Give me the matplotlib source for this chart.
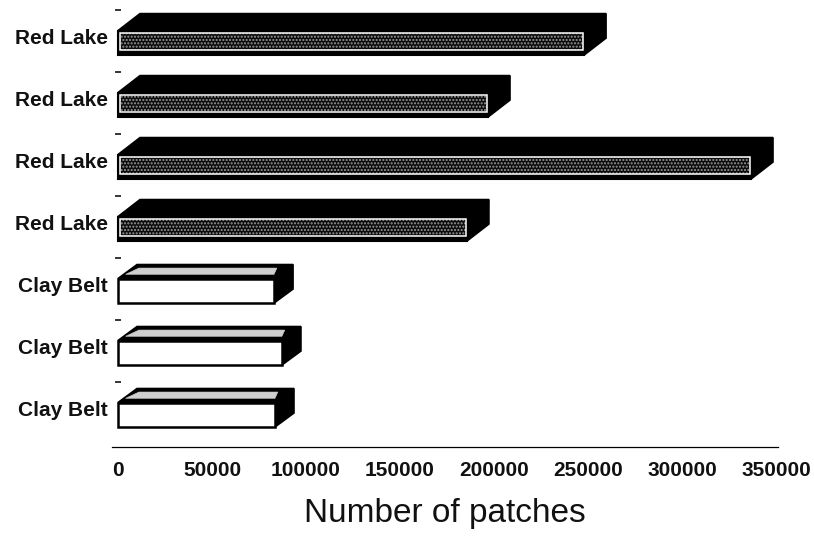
import matplotlib
matplotlib.use("Agg")
import matplotlib.pyplot as plt
from matplotlib.patches import Polygon

regions = ["Red Lake", "Red Lake", "Red Lake", "Red Lake", "Clay Belt", "Clay Belt", "Clay Belt"]
patches = [247900, 196800, 336700, 185600, 83000, 87200, 83500]
x_ticks = [0, 50000, 100000, 150000, 200000, 250000, 300000, 350000]

W, H = 814, 537
plt.rcParams["font.family"] = ["Liberation Sans", "DejaVu Sans"]
plt.rcParams["hatch.linewidth"] = 1.0
fig = plt.figure(figsize=(W / 100, H / 100), dpi=100, facecolor="white")

# axes box in pixels
left, right, top, bottom = 112, 778, 10, 447
zero_px = 118
ax = fig.add_axes([left / W, 1 - bottom / H, (right - left) / W, (bottom - top) / H])
PX = 658 / 350000                # px per patch
PY = 62.0                        # px per row
ax.set_xlim((left - zero_px) / PX, (right - zero_px) / PX)
ax.set_ylim(6.52, -0.53)

pos = list(range(len(patches)))
bar_h = 24.5 / PY
depth = {"Red Lake": (22 / PX, 17 / PY), "Clay Belt": (19 / PX, 14 / PY)}

for y, v, name in zip(pos, patches, regions):
    t, b = y - bar_h / 2, y + bar_h / 2
    dx, dy = depth[name]
    ax.add_patch(Polygon([(0, t), (dx, t - dy), (v + dx, t - dy), (v, t)],
                         closed=True, fc="black", ec="black", lw=1.2, zorder=2))
    ax.add_patch(Polygon([(v, t), (v + dx, t - dy), (v + dx, b - dy), (v, b)],
                         closed=True, fc="black", ec="black", lw=1.2, zorder=2))
    if name == "Red Lake":
        ax.barh(y, v, height=bar_h, color="black", edgecolor="black", lw=1.5, zorder=3)
        i_l, i_w = 2 / PX, v - 3 / PX
        i_t, i_b = t + 2.5 / PY, b - 5 / PY
        ax.barh((i_t + i_b) / 2, i_w, left=i_l, height=i_b - i_t,
                color="#0c0c0c", edgecolor="#9a9a9a", hatch=".....", lw=0, zorder=4)
        ax.barh((i_t + i_b) / 2, i_w, left=i_l, height=i_b - i_t,
                fill=False, edgecolor="white", lw=1.1, zorder=5)
    else:
        ax.add_patch(Polygon([(dx * 0.4, t - dy * 0.3), (dx * 1.1, t - dy * 0.75),
                              (v + dx * 0.15, t - dy * 0.75), (v, t - dy * 0.3)],
                             closed=True, fc="#cfcfcf", ec="#cfcfcf", lw=0.4, zorder=3))
        ax.barh(y, v, height=bar_h, color="white", edgecolor="black", lw=1.8, zorder=3)

for s in ("top", "right", "left"):
    ax.spines[s].set_visible(False)
ax.spines["bottom"].set_linewidth(0.9)
ax.spines["left"].set_position(("data", 0))

ax.set_xticks(x_ticks)
ax.set_xticklabels([str(v) for v in x_ticks], fontsize=15, fontweight="bold", color="#111111")
ax.tick_params(axis="x", length=0, pad=10)

ax.set_yticks([p - 0.1 for p in pos])
ax.set_yticklabels(regions, fontsize=15, fontweight="bold", color="#111111")
ax.tick_params(axis="y", which="major", length=0, pad=7.5)
ax.set_yticks([p - 0.53 for p in pos], minor=True)
ax.tick_params(axis="y", which="minor", length=4.5, width=1.1, direction="inout")

ax.set_xlabel("Number of patches", fontsize=24, color="#111111", labelpad=13)
fig.savefig("out.png", dpi=100)
